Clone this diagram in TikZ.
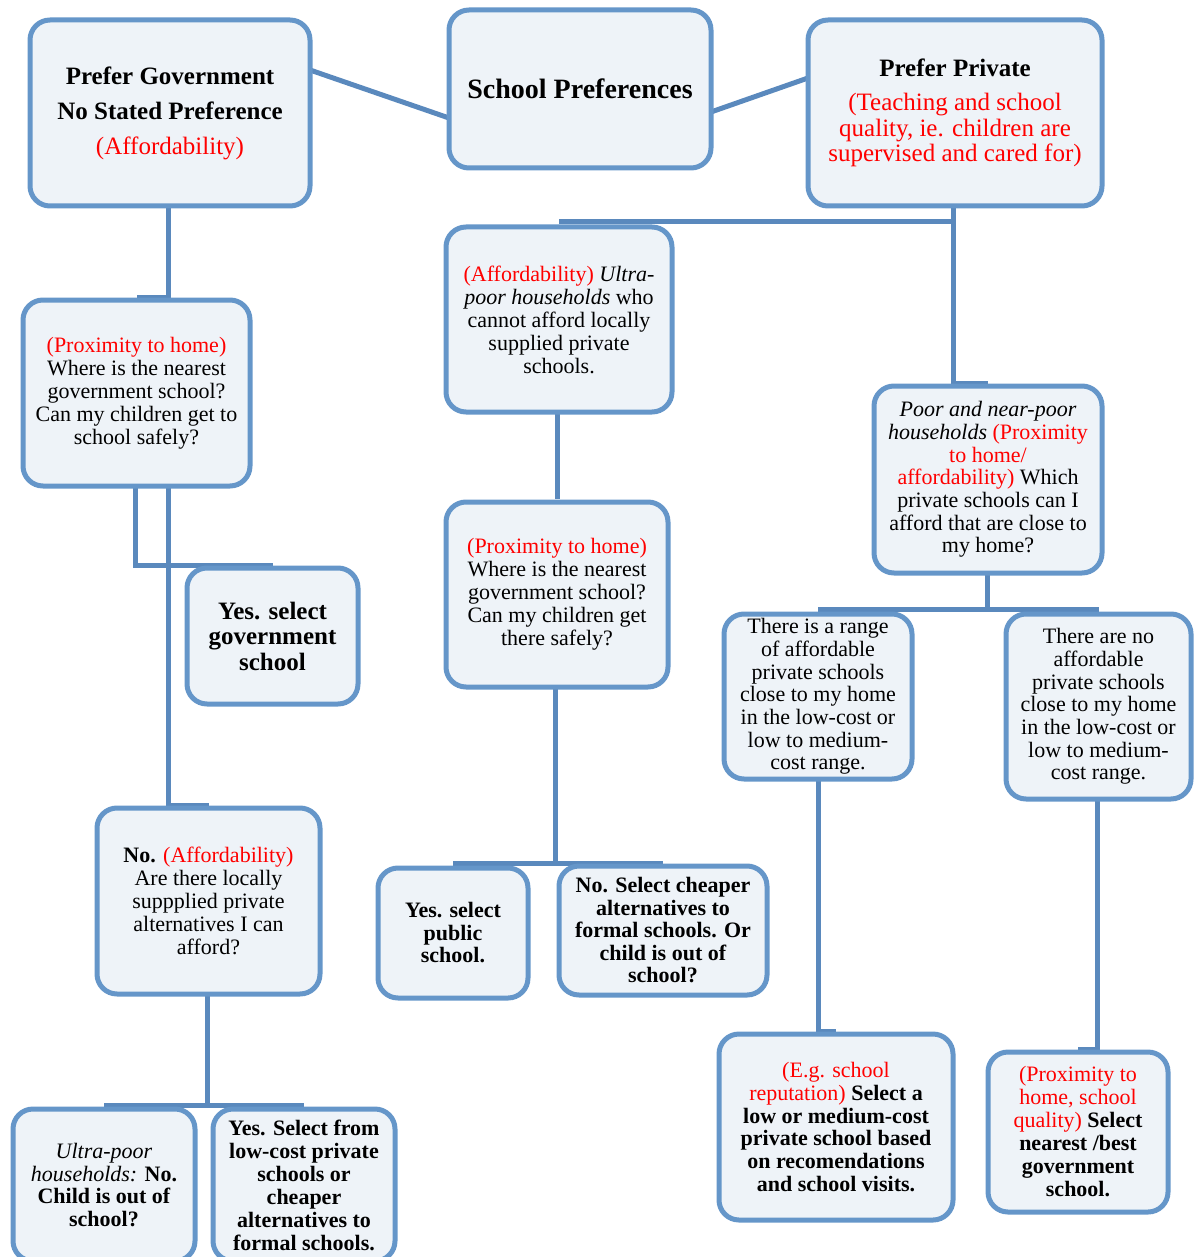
\documentclass[tikz,border=0pt]{standalone}
\usepackage{fontspec}
\setmainfont{Liberation Serif}
\usetikzlibrary{calc}
\definecolor{boxline}{RGB}{101,150,201}
\definecolor{connline}{RGB}{90,137,189}
\definecolor{boxfill}{RGB}{238,243,248}
\definecolor{redtxt}{RGB}{255,0,0}
\newcommand\myfs[2]{\fontsize{#1}{#2}\selectfont}
\newcommand\redt[1]{\textcolor{redtxt}{#1}}
\pgfdeclarelayer{bg}
\pgfsetlayers{bg,main}
\begin{document}
\begin{tikzpicture}[x=1pt,y=-1pt,
  pbox/.style={draw=boxline, line width=5pt, fill=boxfill, rounded corners=20pt,
    align=center, inner sep=0pt, outer sep=0pt, text=black},
  conn/.style={draw=connline, line width=5pt}]
\useasboundingbox (0,0) rectangle (1198,1257);
\clip (0,0) rectangle (1198,1257);

\node[pbox, minimum width=280pt, minimum height=186pt, font=\myfs{25}{35}] (PG) at (170,113)
  {\textbf{Prefer Government}\\\textbf{No Stated Preference}\\\redt{(Affordability)}};
\node[pbox, minimum width=262pt, minimum height=158pt, font=\myfs{28}{30}] (SP) at (580,89)
  {\textbf{School Preferences}};
\node[pbox, minimum width=294pt, minimum height=186pt, font=\myfs{25}{25.5}] (PP) at (955,113)
  {\textbf{Prefer Private}\\[9pt]\redt{(Teaching and school}\\\redt{quality, ie. children are}\\\redt{supervised and cared for)}};

\node[pbox, minimum width=227pt, minimum height=186pt, font=\myfs{22}{23}] (PH1) at (136.5,393)
  {\redt{(Proximity to home)}\\Where is the nearest\\government school?\\Can my children get to\\school safely?};
\node[pbox, minimum width=171pt, minimum height=136pt, font=\myfs{25}{25.5}] (YG) at (272.5,636)
  {\textbf{Yes. select}\\\textbf{government}\\\textbf{school}};
\node[pbox, minimum width=223pt, minimum height=186pt, font=\myfs{22}{23}] (NA) at (208.5,901)
  {\textbf{No.} \redt{(Affordability)}\\Are there locally\\suppplied private\\alternatives I can\\afford?};
\node[pbox, minimum width=182pt, minimum height=152pt, font=\myfs{22}{22.5}] (UP) at (104,1185)
  {\textit{Ultra-poor}\\\textit{households:} \textbf{No.}\\\textbf{Child is out of}\\\textbf{school?}};
\node[pbox, minimum width=182pt, minimum height=152pt, font=\myfs{22}{23}] (YS) at (304,1185)
  {\textbf{Yes. Select from}\\\textbf{low-cost private}\\\textbf{schools or}\\\textbf{cheaper}\\\textbf{alternatives to}\\\textbf{formal schools.}};

\node[pbox, minimum width=226pt, minimum height=185pt, font=\myfs{22}{23}] (AF) at (559,319.5)
  {\redt{(Affordability)} \textit{Ultra-}\\\textit{poor households} who\\cannot afford locally\\supplied private\\schools.};
\node[pbox, minimum width=222pt, minimum height=185pt, font=\myfs{22}{23}] (PH2) at (557,594.5)
  {\redt{(Proximity to home)}\\Where is the nearest\\government school?\\Can my children get\\there safely?};
\node[pbox, minimum width=150pt, minimum height=130pt, font=\myfs{22}{22.5}] (YP) at (453,933)
  {\textbf{Yes. select}\\\textbf{public}\\\textbf{school.}};
\node[pbox, minimum width=208pt, minimum height=129pt, font=\myfs{22}{22.5}] (NS) at (663,930.5)
  {\textbf{No. Select cheaper}\\\textbf{alternatives to}\\\textbf{formal schools. Or}\\\textbf{child is out of}\\\textbf{school?}};

\node[pbox, minimum width=228pt, minimum height=187pt, font=\myfs{22}{22.7}] (PN) at (988,479.5)
  {\textit{Poor and near-poor}\\\textit{households} \redt{(Proximity}\\\redt{to home/}\\\redt{affordability)} Which\\private schools can I\\afford that are close to\\my home?};
\node[pbox, minimum width=188pt, minimum height=165pt, font=\myfs{22}{22.7}] (RA) at (818,696.5)
  {There is a range\\of affordable\\private schools\\close to my home\\in the low-cost or\\low to medium-\\cost range.};
\node[pbox, minimum width=185pt, minimum height=185pt, font=\myfs{22}{22.7}] (NA2) at (1098.5,706.5)
  {There are no\\affordable\\private schools\\close to my home\\in the low-cost or\\low to medium-\\cost range.};
\node[pbox, minimum width=234pt, minimum height=186pt, font=\myfs{22}{22.8}] (EG) at (836,1127)
  {\redt{(E.g. school}\\\redt{reputation)} \textbf{Select a}\\\textbf{low or medium-cost}\\\textbf{private school based}\\\textbf{on recomendations}\\\textbf{and school visits.}};
\node[pbox, minimum width=180pt, minimum height=160pt, font=\myfs{22}{23}] (PX) at (1078,1132)
  {\redt{(Proximity to}\\\redt{home, school}\\\redt{quality)} \textbf{Select}\\\textbf{nearest /best}\\\textbf{government}\\\textbf{school.}};

\begin{pgfonlayer}{bg}
\draw[conn] ([yshift=43pt]PG.east) -- ([yshift=-29pt]SP.west);
\draw[conn] ([yshift=-23pt]SP.east) -- ([yshift=35pt]PP.west);
\draw[conn] ([xshift=-2pt]PG.south) |- ([yshift=2.5pt]PH1.north);
\draw[conn] ([xshift=-1.5pt]PH1.south) |- ([yshift=3pt]YG.north);
\draw[conn] ([xshift=31.5pt]PH1.south) |- ([yshift=2.5pt]NA.north);
\draw[conn] ([xshift=-1.5pt]NA.south) |- ([yshift=4pt]UP.north);
\draw[conn] ([xshift=-1.5pt]NA.south) |- ([yshift=4pt]YS.north);
\draw[conn] ([xshift=-2pt]PP.south) |- ([yshift=5pt]AF.north);
\draw[conn] ([xshift=-2pt]PP.south) |- ([yshift=2.5pt]PN.north);
\draw[conn] ([xshift=-2pt]AF.south) |- ([yshift=3pt]PH2.north);
\draw[conn] ([xshift=-2pt]PH2.south) |- ([yshift=5pt]YP.north);
\draw[conn] ([xshift=-2pt]PH2.south) |- ([yshift=3pt]NS.north);
\draw[conn] ([xshift=-1pt]PN.south) |- ([yshift=5pt]RA.north);
\draw[conn] ([xshift=-1pt]PN.south) |- ([yshift=5pt]NA2.north);
\draw[conn] (RA.south) |- ([yshift=2.5pt]EG.north);
\draw[conn] ([xshift=-1.5pt]NA2.south) |- ([yshift=2.5pt]PX.north);
\end{pgfonlayer}
\end{tikzpicture}
\end{document}
